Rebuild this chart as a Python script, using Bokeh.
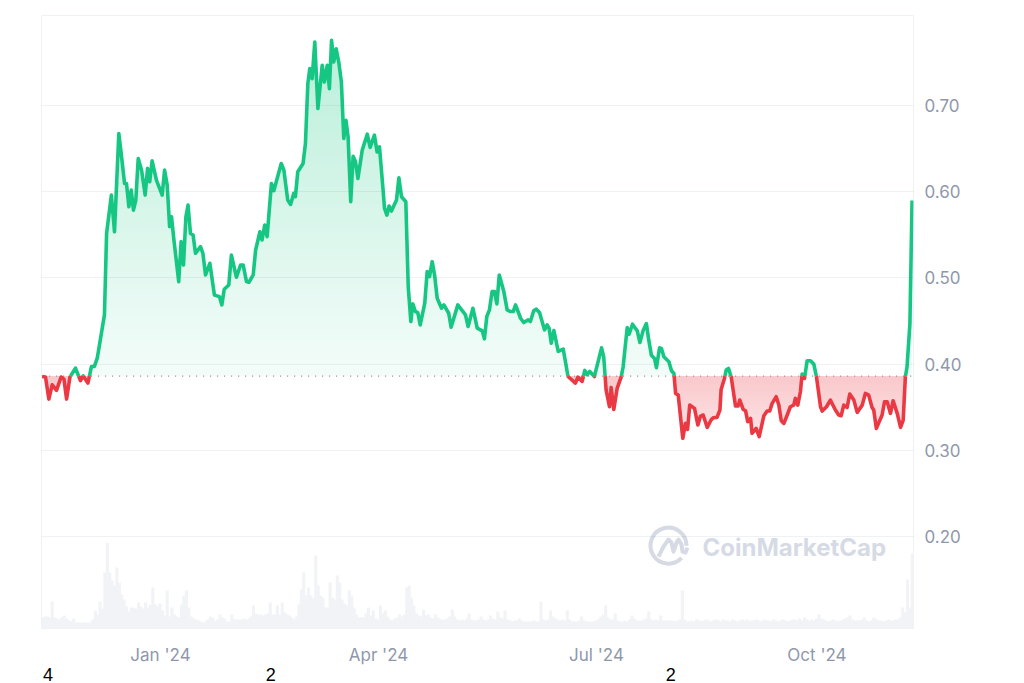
from bokeh.plotting import figure
from bokeh.models import Range1d, FixedTicker, NumeralTickFormatter, Label, LinearAxis
from bokeh.embed import file_html
from bokeh.resources import INLINE
import numpy as np

# days are counted from 1 Jan 2024
DAYS = [
    -49.4, -48.0, -46.6, -45.2, -43.4, -41.5, -40.3, -39.2, -37.8, -35.5,
    -33.4, -32.3, -30.3, -28.8, -27.6, -26.4, -23.4, -22.5, -20.5, -19.2,
    -17.4, -16.4, -15.0, -14.2, -13.2, -12.2, -11.3, -10.3, -9.3, -7.9,
    -6.4, -5.4, -4.5, -3.5, -1.7, 0.7, 1.7, 2.8, 3.8, 4.6,
    5.6, 7.6, 8.6, 9.6, 10.6, 11.5, 12.5, 13.6, 14.6, 16.7,
    17.7, 18.8, 20.6, 22.5, 24.6, 25.6, 26.6, 28.5, 29.6, 31.7,
    33.4, 34.5, 35.9, 36.9, 38.7, 39.7, 41.5, 42.4, 43.5, 44.5,
    46.3, 47.3, 50.4, 51.5, 53.1, 54.3, 55.6, 56.3, 57.3, 59.5,
    60.5, 61.5, 62.3, 63.3, 64.4, 65.7, 67.5, 68.4, 69.6, 70.5,
    71.4, 72.3, 73.3, 74.4, 75.5, 76.5, 77.4, 78.3, 79.4, 80.4,
    81.4, 82.4, 84.2, 86.3, 87.5, 89.3, 90.4, 91.4, 92.8, 93.5,
    94.5, 95.4, 96.4, 98.5, 99.5, 100.6, 102.4, 103.4, 104.5, 105.3,
    106.4, 107.4, 108.4, 110.3, 111.3, 112.3, 113.4, 114.4, 115.5, 117.3,
    118.3, 120.3, 121.3, 124.1, 127.3, 128.4, 130.4, 132.2, 134.3, 135.2,
    136.2, 137.3, 138.4, 139.4, 140.4, 141.4, 143.3, 144.7, 146.1, 147.2,
    148.2, 150.3, 151.6, 153.5, 154.4, 155.8, 156.9, 158.2, 160.3, 161.4,
    162.2, 163.1, 164.2, 166.0, 168.1, 170.1, 173.2, 174.2, 176.0, 177.1,
    178.1, 179.2, 181.1, 184.1, 185.0, 186.0, 187.4, 188.1, 189.2, 190.6,
    192.3, 193.1, 194.8, 195.6, 197.0, 199.0, 200.1, 201.5, 202.8, 203.8,
    204.9, 206.2, 207.0, 208.3, 209.1, 210.1, 212.2, 213.3, 214.3, 215.0,
    216.1, 218.0, 219.1, 220.0, 220.9, 222.9, 224.3, 225.4, 226.5, 228.2,
    229.8, 230.7, 232.3, 233.5, 234.0, 235.4, 236.1, 237.1, 238.2, 240.0,
    241.1, 241.8, 243.2, 244.2, 245.1, 246.3, 246.9, 248.6, 249.9, 251.8,
    253.2, 254.3, 255.3, 257.0, 258.1, 259.1, 260.2, 261.6, 262.9, 264.3,
    265.0, 266.0, 267.1, 267.8, 268.8, 269.9, 271.3, 272.7, 273.8, 275.5,
    276.2, 278.0, 279.6, 281.7, 283.1, 284.1, 285.2, 286.6, 287.7, 289.4,
    290.8, 292.9, 294.2, 295.6, 297.0, 297.7, 298.8, 301.2, 302.2, 303.3,
    304.7, 305.8, 307.5, 308.9, 310.0, 310.9, 311.6, 312.8, 313.7,
]

PRICES = [
    .3857, .385, .3595, .376, .3695, .385, .3826, .3595, .385, .3954,
    .381, .3865, .378, .3973, .3973, .4069, .4571, .5516, .596, .5535,
    .6674, .6442, .6095, .6095, .5825, .6018, .5786, .5902, .6384, .6249,
    .596, .6269, .6114, .6357, .6133, .596, .6249, .6076, .5593, .5709,
    .5439, .4957, .542, .515, .5709, .5844, .5516, .5497, .5285, .5362,
    .5285, .5034, .5169, .4802, .4783, .4687, .4868, .4918, .5265, .5007,
    .515, .515, .4957, .4949, .5034, .5323, .5535, .5439, .5613, .5478,
    .6095, .601, .6326, .6249, .5902, .5852, .5979, .5941, .623, .6326,
    .6558, .7252, .7426, .731, .7735, .6963, .7465, .7272, .7465, .7194,
    .7754, .7503, .7657, .7503, .7272, .6616, .6828, .6635, .5883, .6411,
    .6346, .6153, .6481, .6666, .6512, .6654, .6461, .6519, .6056, .5806,
    .5728, .5833, .5775, .5902, .616, .5941, .5883, .4899, .4494, .4698,
    .461, .4598, .4455, .4706, .5073, .5015, .5188, .5034, .4764, .4648,
    .4687, .459, .4428, .4687, .4571, .4436, .4648, .4417, .4386, .4293,
    .4552, .4629, .4841, .4841, .4698, .5034, .4841, .4629, .461, .461,
    .4687, .4532, .4482, .4513, .4494, .4621, .4637, .4598, .4397, .4455,
    .4417, .4243, .439, .4147, .4174, .3857, .378, .385, .38, .3927,
    .3877, .3915, .3857, .4189, .4085, .3699, .3506, .373, .3475, .3718,
    .3853, .3969, .4424, .4347, .4463, .4386, .4251, .4394, .4471, .4278,
    .4104, .4066, .3958, .4189, .4181, .4085, .4027, .3923, .3892, .366,
    .3641, .314, .3313, .3244, .3525, .3487, .3294, .3398, .341, .3267,
    .3352, .3379, .3383, .3468, .3707, .3834, .3931, .395, .3853, .3514,
    .3514, .3583, .3475, .346, .3333, .3371, .3198, .3255, .3159, .3398,
    .3456, .3456, .3545, .3622, .3525, .3344, .3313, .341, .3506, .3525,
    .3603, .3525, .368, .3884, .3834, .4039, .4039, .40, .3853, .3506,
    .3456, .3506, .3583, .3468, .341, .3402, .3525, .3498, .3653, .3583,
    .3441, .3525, .366, .3641, .3498, .3468, .3255, .341, .3564, .3564,
    .3429, .3576, .3429, .3267, .3352, .3853, .3969, .4471, .5898,
]

# one bar per day, first bar on the left edge of the chart
VOLUME_START = -49.2
VOLUMES = [
    11, 12, 12, 11, 27, 11, 10, 9, 11, 13, 10, 8, 7, 10, 6, 6, 6, 6, 6, 6, 6,
    9, 18, 14, 27, 20, 56, 86, 56, 48, 43, 61, 46, 34, 29, 22,
    17, 21, 21, 20, 26, 22, 20, 26, 21, 24, 41, 24, 22, 25, 18,
    13, 38, 12, 21, 14, 12, 11, 24, 33, 38, 21, 12, 10, 9, 8,
    7, 6, 7, 9, 12, 11, 8, 9, 14, 11, 10, 7, 7,
    14, 9, 9, 9, 9, 10, 9, 10, 12, 23, 15, 14,
    14, 13, 14, 15, 26, 14, 14, 23, 14, 26,
    16, 14, 13, 11, 9, 12, 24, 39, 56, 33,
    41, 33, 30, 73, 43, 33, 31, 21, 21, 46,
    31, 29, 53, 46, 29, 25, 23, 38, 33, 21,
    14, 11, 11, 11, 15, 21, 13, 18, 10, 9,
    23, 15, 18, 12, 9, 8, 10, 11, 14, 12,
    14, 41, 43, 31, 23, 15, 13, 12, 19, 13,
    14, 11, 10, 14, 11, 9, 9, 9, 10, 12, 19,
    12, 9, 8, 9, 8, 10, 15, 9, 8,
    8, 9, 12, 9, 8, 9, 13, 10, 9, 17,
    11, 10, 18, 9, 8, 7, 8, 8, 10, 8,
    7, 7, 7, 7, 8, 7, 7, 27, 9, 8,
    9, 18, 12, 10, 9, 8, 9, 8, 18, 9,
    7, 7, 7, 8, 12, 8, 7, 7, 7, 7,
    8, 9, 12, 14, 23, 11, 9, 9, 15, 8,
    7, 7, 8, 7, 9, 13, 10, 8, 8, 8,
    9, 10, 17, 9, 8, 9, 8, 13, 8, 8,
    8, 8, 8, 7, 8, 9, 38, 9, 7, 7,
    8, 7, 9, 8, 7, 8, 9, 8, 7, 8,
    9, 8, 7, 9, 8, 8, 7, 9, 8, 7,
    8, 9, 8, 9, 7, 8, 8, 9, 8, 7,
    9, 8, 8, 7, 9, 8, 7, 8, 9, 8,
    7, 8, 9, 9, 8, 10, 8, 11, 9, 8,
    9, 8, 10, 14, 10, 9, 8, 7, 8, 9,
    8, 7, 8, 9, 10, 11, 13, 9, 8, 8,
    8, 9, 11, 8, 7, 8, 11, 9, 8, 8,
    7, 8, 9, 8, 8, 9, 9, 11,
    21, 16, 49, 21, 75, 70,
]

BASELINE = 0.386
PRICE_TICKS = [0.2, 0.3, 0.4, 0.5, 0.6, 0.7]
MONTH_TICKS = [0, 91, 182, 274]
MONTH_LABELS = ["Jan '24", "Apr '24", "Jul '24", "Oct '24"]
STRAY_TICKS = [-47, 46, 213]
STRAY_LABELS = ["4", "2", "2"]

GREEN = (22, 199, 132)
RED = (234, 57, 67)
LINE_GREEN = "#16c784"
LINE_RED = "#ea3943"
VOLUME_COLOR = "#f1f3f6"
GREY_TEXT = "#8f98ab"
MARK = "#d5dae5"

X0, X1 = -49.67, 314.3
Y0, Y1 = 0.0935, 0.8042


def to_x(px):
    return X0 + (px - 41) * (X1 - X0) / 872


def to_y(py):
    return Y0 + (629 - py) * (Y1 - Y0) / 614


def tint(rgb, alpha):
    # colour on a white page, so the layers can be opaque
    return "#%02x%02x%02x" % tuple(round(255 - (255 - c) * alpha) for c in rgb)


days = np.array(DAYS)
prices = np.array(PRICES)


def nodes(*levels):
    # the data days plus the places where the line crosses the levels
    out = days
    for level in levels:
        s = prices - level
        i = np.where(s[:-1] * s[1:] < 0)[0]
        x = days[i] + (level - prices[i]) * (days[i + 1] - days[i]) / (prices[i + 1] - prices[i])
        out = np.union1d(out, x)
    return out


p = figure(width=1024, height=683, output_backend="svg", toolbar_location=None,
           x_range=Range1d(X0, X1), y_range=Range1d(Y0, Y1), y_axis_location="right",
           min_border_left=41, min_border_right=111, min_border_top=15, min_border_bottom=54)
p.extra_y_ranges = {"volume": Range1d(0, 614)}
p.outline_line_color = "#eff2f5"
p.xgrid.visible = False
# see-through grid on top of the opaque fills
p.ygrid.level = "overlay"
p.ygrid.grid_line_color = "#375c82"
p.ygrid.grid_line_alpha = 0.08
p.ygrid.ticker = FixedTicker(ticks=PRICE_TICKS)

p.yaxis.ticker = FixedTicker(ticks=PRICE_TICKS)
p.yaxis.formatter = NumeralTickFormatter(format="0.00")
p.yaxis.major_label_standoff = 11
p.xaxis.ticker = FixedTicker(ticks=MONTH_TICKS)
p.xaxis.major_label_overrides = dict(zip(MONTH_TICKS, MONTH_LABELS))
p.xaxis.major_label_standoff = 16

stray_axis = LinearAxis(ticker=FixedTicker(ticks=STRAY_TICKS),
                        major_label_overrides=dict(zip(STRAY_TICKS, STRAY_LABELS)))
p.add_layout(stray_axis, "below")
stray_axis.major_label_standoff = 0

for ax in [p.xaxis[0], p.yaxis[0], stray_axis]:
    ax.axis_line_color = None
    ax.major_tick_line_color = None
    ax.minor_tick_line_color = None
    ax.major_tick_in = 0
    ax.major_tick_out = 0
    ax.minor_tick_in = 0
    ax.minor_tick_out = 0
    ax.major_label_text_color = GREY_TEXT
    ax.major_label_text_font = "Inter"
    ax.major_label_text_font_size = "17px"
stray_axis.major_label_text_color = "#000000"
stray_axis.major_label_text_font = "Liberation Sans"
stray_axis.major_label_text_font_size = "18px"

p.vbar(x=VOLUME_START + np.arange(len(VOLUMES)), top=VOLUMES, bottom=0, width=1.3,
       y_range_name="volume", fill_color=VOLUME_COLOR, line_color=None)

# gradients: opaque layers, each one paints over the last from its level out
for level in np.linspace(BASELINE, 0.78, 60):
    x = nodes(level)
    y = np.interp(x, days, prices)
    alpha = 0.05 + 0.25 * (level - BASELINE) / (0.78 - BASELINE)
    p.varea(x=x, y1=np.maximum(y, level), y2=np.full_like(x, level), fill_color=tint(GREEN, alpha))

for level in np.linspace(0.31, BASELINE, 25):
    x = nodes(level, BASELINE)
    y = np.interp(x, days, prices)
    low = np.minimum(np.maximum(y, level), BASELINE)
    alpha = 0.13 + 0.15 * (level - 0.31) / (BASELINE - 0.31)
    p.varea(x=x, y1=low, y2=np.full_like(x, BASELINE), fill_color=tint(RED, alpha))

p.line([days[0], days[-1]], [BASELINE, BASELINE], line_color="#808a9d", line_width=1.2, line_dash="1 6")

x = nodes(BASELINE)
y = np.interp(x, days, prices)
y[np.abs(y - BASELINE) < 1e-9] = BASELINE
p.line(x, np.where(y >= BASELINE, y, np.nan), line_color=LINE_GREEN, line_width=3.6, line_join="round")
p.line(x, np.where(y <= BASELINE, y, np.nan), line_color=LINE_RED, line_width=3.6, line_join="round")

# watermark
p.arc(x=[to_x(668)], y=[to_y(546)], radius=18, radius_units="screen",
      start_angle=0.0, end_angle=5.53, line_color=MARK, line_width=4)
wave_px = [658, 663, 668, 671, 673, 676, 678, 681, 682, 685, 687]
wave_py = [557, 547, 540, 543, 552, 543, 540, 545, 552, 553, 548]
p.line([to_x(v) for v in wave_px], [to_y(v) for v in wave_py], line_color=MARK, line_width=4, line_join="round")
p.add_layout(Label(x=to_x(702), y=to_y(548), text="CoinMarketCap", text_color=MARK, text_font="Inter",
                   text_font_style="bold", text_font_size="24px", text_baseline="middle"))

open("out.html", "w").write(file_html(p, INLINE))
